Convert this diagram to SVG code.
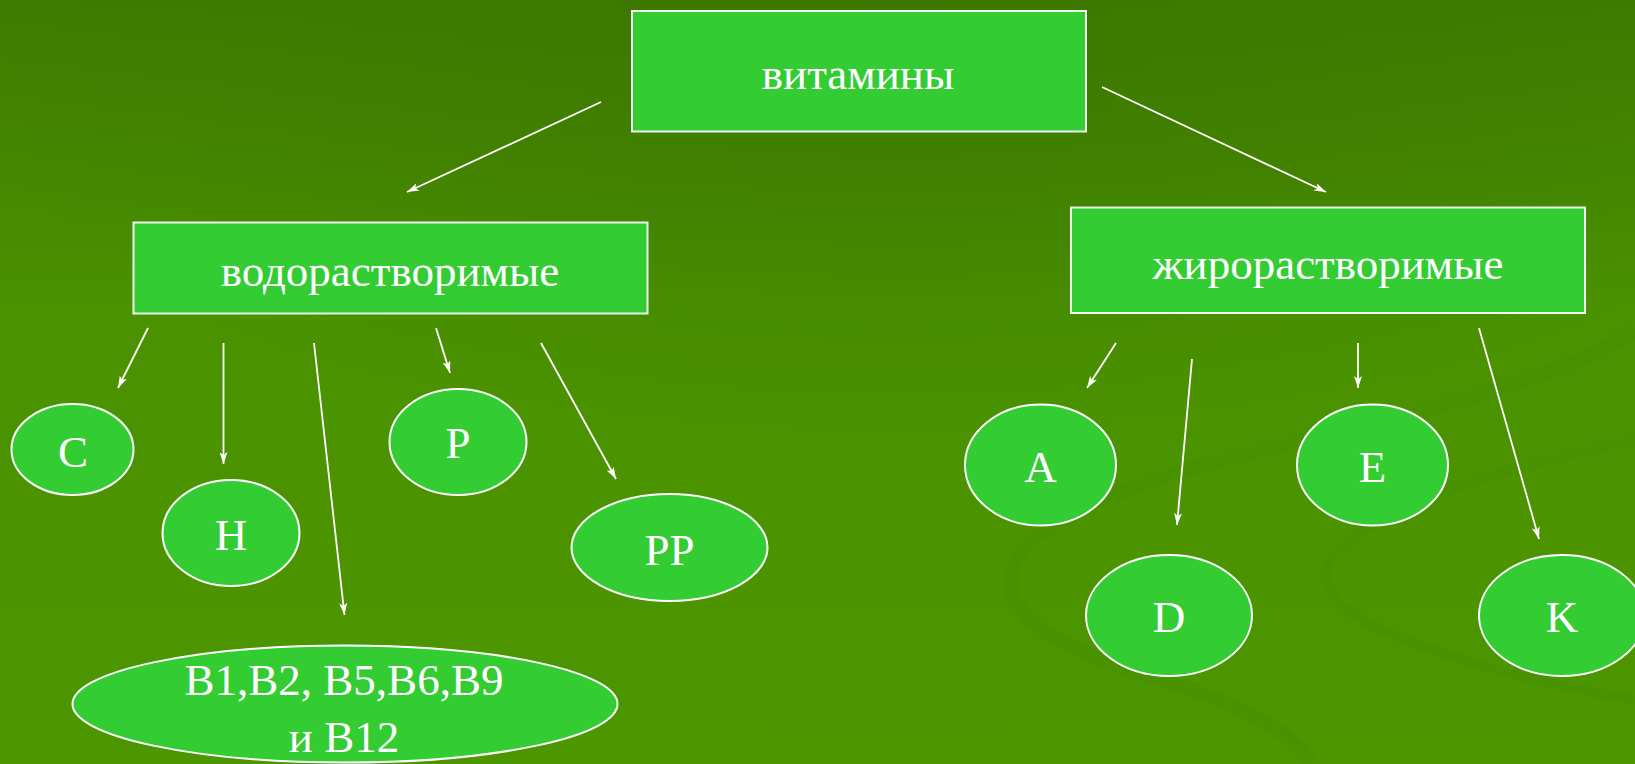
<svg xmlns="http://www.w3.org/2000/svg" width="1635" height="764" viewBox="0 0 1635 764">
<defs>
<linearGradient id="bg" x1="0" y1="0" x2="0" y2="1">
<stop offset="0" stop-color="#3f7b00"/>
<stop offset="0.4" stop-color="#4a9200"/>
<stop offset="1" stop-color="#4c9600"/>
</linearGradient>
<radialGradient id="topglow" cx="0.55" cy="0" r="0.6">
<stop offset="0" stop-color="#3a7300" stop-opacity="0.6"/>
<stop offset="1" stop-color="#3a7300" stop-opacity="0"/>
</radialGradient>
<marker id="ah" viewBox="0 0 12 8" refX="12" refY="4" markerWidth="12" markerHeight="8" markerUnits="userSpaceOnUse" orient="auto">
<path d="M0,0 L12,4 L0,8 L3,4 Z" fill="#ffffff"/>
</marker>
<style>
.box{fill:#33cc33;stroke:#eef8ee;stroke-width:2}
.ell{fill:#33cc33;stroke:#ffffff;stroke-width:2}
.lbl{font-family:"Liberation Serif","Times New Roman",serif;font-size:45px;fill:#ffffff;text-anchor:middle}
.con{stroke:#ffffff;stroke-width:1.8;fill:none;marker-end:url(#ah)}
.swirl{fill:none;stroke:#3f8400;stroke-opacity:0.15}
</style>
</defs>
<rect x="0" y="0" width="1635" height="764" fill="url(#bg)"/>
<rect x="0" y="0" width="1635" height="764" fill="url(#topglow)"/>
<g id="decor">
<path class="swirl" stroke-width="14" d="M1635,330 C1500,420 1200,440 1060,520 C960,580 1020,640 1160,680 C1260,710 1300,740 1310,764"/>
<path class="swirl" stroke-width="10" d="M1635,440 C1500,470 1380,500 1330,560 C1300,610 1420,660 1635,700"/>
</g>
<g id="connectors">
<line class="con" x1="601" y1="102" x2="407" y2="192"/>
<line class="con" x1="1102" y1="87" x2="1326" y2="192"/>
<line class="con" x1="148" y1="328" x2="118" y2="388"/>
<line class="con" x1="223.5" y1="343" x2="223.5" y2="464"/>
<line class="con" x1="314" y1="343" x2="344.5" y2="615"/>
<line class="con" x1="436" y1="328" x2="450" y2="373"/>
<line class="con" x1="541" y1="343" x2="616" y2="479"/>
<line class="con" x1="1116" y1="343" x2="1087" y2="388"/>
<line class="con" x1="1192" y1="359" x2="1177" y2="525"/>
<line class="con" x1="1358" y1="343" x2="1358" y2="388"/>
<line class="con" x1="1479" y1="328" x2="1539" y2="539"/>
</g>
<g id="node-vitamins">
<rect class="box" x="632" y="11" width="454" height="120.5"/>
<text class="lbl" x="858" y="89">витамины</text>
</g>
<g id="node-water">
<rect class="box" x="133.5" y="222.5" width="514" height="91"/>
<text class="lbl" x="390" y="286">водорастворимые</text>
</g>
<g id="node-fat">
<rect class="box" x="1071" y="207.5" width="514" height="105.5"/>
<text class="lbl" x="1328" y="279">жирорастворимые</text>
</g>
<g id="node-C">
<ellipse class="ell" cx="72.5" cy="449.5" rx="61" ry="45.5"/>
<text class="lbl" x="73" y="467">C</text>
</g>
<g id="node-H">
<ellipse class="ell" cx="231" cy="533" rx="68.5" ry="53"/>
<text class="lbl" x="231" y="550">H</text>
</g>
<g id="node-B">
<ellipse class="ell" cx="345" cy="704" rx="272.5" ry="58.5"/>
<text class="lbl" x="344" y="695" font-size="44">B1,B2, B5,B6,B9</text>
<text class="lbl" x="344" y="752" font-size="44">и B12</text>
</g>
<g id="node-P">
<ellipse class="ell" cx="458" cy="442" rx="68.5" ry="53"/>
<text class="lbl" x="458" y="458">P</text>
</g>
<g id="node-PP">
<ellipse class="ell" cx="669.5" cy="547.5" rx="98" ry="53.5"/>
<text class="lbl" x="669.5" y="565">PP</text>
</g>
<g id="node-A">
<ellipse class="ell" cx="1040.5" cy="465" rx="75.5" ry="60.5"/>
<text class="lbl" x="1040.5" y="482">A</text>
</g>
<g id="node-E">
<ellipse class="ell" cx="1372.5" cy="465" rx="75.5" ry="60.5"/>
<text class="lbl" x="1372.5" y="482">E</text>
</g>
<g id="node-D">
<ellipse class="ell" cx="1169" cy="615.5" rx="83" ry="60.5"/>
<text class="lbl" x="1169" y="632">D</text>
</g>
<g id="node-K">
<ellipse class="ell" cx="1562" cy="615.5" rx="83" ry="60.5"/>
<text class="lbl" x="1562" y="632">K</text>
</g>
</svg>
